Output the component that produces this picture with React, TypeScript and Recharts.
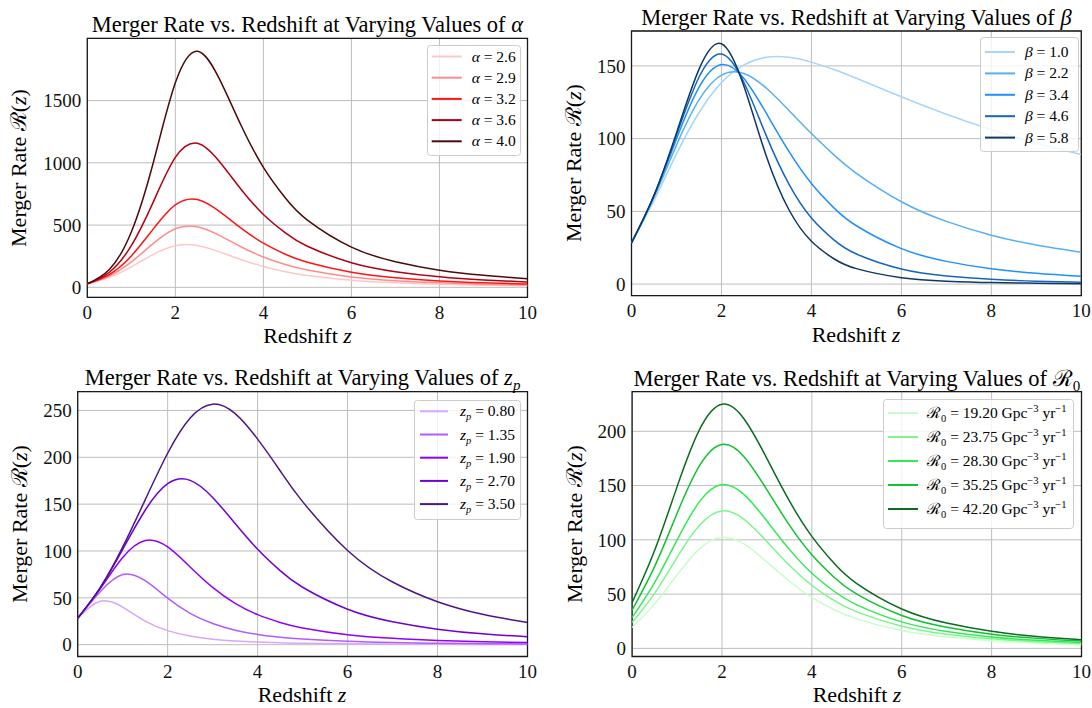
import React from 'react';
import { LineChart, Line, XAxis, YAxis, CartesianGrid, Legend, ReferenceArea } from 'recharts';

const FONT = '"Liberation Serif", "DejaVu Serif", serif';

// Redshift sample points shared by all curves
const zGrid = [0, 0.5, 1, 1.5, 2, 2.5, 3, 3.5, 4, 4.5, 5, 6, 7, 8, 9, 10];
const xTicks = [0, 2, 4, 6, 8, 10];

// Panel 1: varying alpha
const alphaLabels = ['2.6', '2.9', '3.2', '3.6', '4.0'];
const alphaRates = [
  [28.3, 80.7, 164.9, 264.9, 334.8, 336.1, 285.1, 221.7, 167.4, 126.0, 95.8, 57.8, 37.0, 24.8, 17.4, 12.6],
  [28.3, 91.2, 204.1, 352.8, 470.9, 486.6, 417.0, 324.1, 243.9, 183.2, 138.9, 83.6, 53.4, 35.9, 25.1, 18.2],
  [28.3, 103.1, 252.5, 469.4, 662.0, 705.2, 609.3, 473.3, 355.2, 266.0, 201.2, 121.0, 77.2, 51.8, 36.2, 26.2],
  [28.3, 121.4, 334.9, 686.6, 1043.1, 1156.4, 1010.0, 783.7, 585.4, 437.0, 329.9, 197.8, 126.1, 84.6, 59.1, 42.8],
  [28.3, 143.0, 444.1, 1002.5, 1642.2, 1896.4, 1673.7, 1295.5, 963.9, 717.0, 540.2, 323.3, 205.9, 138.1, 96.5, 69.8],
];
const alphaColors = ['#ffc8c8', '#ff8c8c', '#ff1414', '#b00012', '#4d0a0a'];
const alphaTicks = [0, 500, 1000, 1500];

// Panel 2: varying beta
const betaLabels = ['1.0', '2.2', '3.4', '4.6', '5.8'];
const betaRates = [
  [28.3, 57.5, 89.5, 117.8, 138.5, 150.7, 155.9, 155.9, 152.6, 147.5, 141.5, 128.8, 116.8, 106.2, 97.0, 89.1],
  [28.3, 59.5, 95.5, 126.6, 143.7, 144.8, 134.6, 119.4, 103.5, 88.8, 76.1, 56.6, 43.1, 33.6, 26.8, 21.8],
  [28.3, 60.5, 99.8, 135.2, 150.9, 141.4, 117.3, 91.2, 69.2, 52.4, 40.1, 24.4, 15.6, 10.5, 7.4, 5.3],
  [28.3, 60.9, 102.4, 142.2, 158.2, 138.6, 101.7, 68.7, 45.4, 30.4, 20.7, 10.4, 5.6, 3.3, 2.0, 1.3],
  [28.3, 61.0, 103.9, 147.6, 165.2, 136.0, 87.7, 51.1, 29.4, 17.4, 10.6, 4.4, 2.0, 1.0, 0.6, 0.3],
];
const betaColors = ['#a8d5fa', '#55b0f5', '#1e90ff', '#1565c0', '#0d3866'];
const betaTicks = [0, 50, 100, 150];

// Panel 3: varying z_p
const zpLabels = ['0.80', '1.35', '1.90', '2.70', '3.50'];
const zpRates = [
  [28.3, 46.3, 40.2, 25.2, 15.0, 9.2, 5.9, 4.0, 2.8, 2.0, 1.5, 0.9, 0.6, 0.4, 0.3, 0.2],
  [28.3, 56.6, 74.9, 68.3, 49.7, 33.5, 22.6, 15.5, 11.0, 8.0, 6.0, 3.6, 2.3, 1.5, 1.1, 0.8],
  [28.3, 59.6, 93.0, 111.2, 104.3, 82.9, 61.1, 44.1, 32.1, 23.7, 17.9, 10.7, 6.9, 4.6, 3.2, 2.3],
  [28.3, 60.7, 101.8, 143.5, 171.8, 175.4, 157.2, 129.3, 101.9, 79.0, 61.3, 37.9, 24.5, 16.6, 11.6, 8.4],
  [28.3, 61.0, 104.2, 154.6, 204.3, 241.9, 256.7, 246.6, 219.4, 185.6, 152.7, 100.6, 66.9, 45.9, 32.4, 23.6],
];
const zpColors = ['#d9a6ff', '#b25cff', '#8f00ff', '#6f00d6', '#4b1685'];
const zpTicks = [0, 50, 100, 150, 200, 250];

// Panel 4: varying R0
const r0Labels = ['19.20', '23.75', '28.30', '35.25', '42.20'];
const r0Rates = [
  [19.2, 41.0, 67.7, 91.7, 102.3, 96.0, 79.6, 61.8, 46.9, 35.6, 27.2, 16.5, 10.6, 7.1, 5.0, 3.6],
  [23.75, 50.7, 83.7, 113.4, 126.6, 118.7, 98.4, 76.5, 58.1, 44.0, 33.6, 20.4, 13.1, 8.8, 6.2, 4.5],
  [28.3, 60.5, 99.8, 135.2, 150.9, 141.4, 117.3, 91.2, 69.2, 52.4, 40.1, 24.4, 15.6, 10.5, 7.4, 5.3],
  [35.25, 75.3, 124.3, 168.3, 187.9, 176.2, 146.1, 113.5, 86.2, 65.3, 49.9, 30.3, 19.5, 13.1, 9.2, 6.7],
  [42.2, 90.1, 148.8, 201.5, 224.9, 210.9, 174.9, 135.9, 103.2, 78.1, 59.7, 36.3, 23.3, 15.7, 11.0, 8.0],
];
const r0Colors = ['#c6ffc9', '#7ff58f', '#33ea55', '#12c232', '#0b6b1f'];
const r0Ticks = [0, 50, 100, 150, 200];

function buildRows(values: number[][]) {
  return zGrid.map((z, i) => {
    const row: Record<string, number> = { z };
    values.forEach((s, j) => {
      row['s' + j] = s[i];
    });
    return row;
  });
}

const legendAlpha = (v: string) => (
  <>
    <tspan fontStyle="italic">α</tspan> = {v}
  </>
);
const legendBeta = (v: string) => (
  <>
    <tspan fontStyle="italic">β</tspan> = {v}
  </>
);
const legendZp = (v: string) => (
  <>
    <tspan fontStyle="italic">z</tspan>
    <tspan fontStyle="italic" dy={4} fontSize={10.5}>p</tspan>
    <tspan dy={-4}> = {v}</tspan>
  </>
);
const legendR0 = (v: string) => (
  <>
    ℛ
    <tspan dy={4} fontSize={10.5}>0</tspan>
    <tspan dy={-4}> = {v} Gpc</tspan>
    <tspan dy={-6} fontSize={10.5}>−3</tspan>
    <tspan dy={6}> yr</tspan>
    <tspan dy={-6} fontSize={10.5}>−1</tspan>
  </>
);

type LegendSpec = { left: number; top: number; w: number; h: number; first: number; step: number; lx0: number; lx1: number; tx: number };

type PanelSpec = {
  key: string;
  left: number;
  top: number;
  margin: { top: number; right: number; bottom: number; left: number };
  yAxisWidth: number;
  yDomain: [number, number];
  yTicks: number[];
  values: number[][];
  colors: string[];
  labels: string[];
  legend: LegendSpec;
  renderLabel: (v: string) => React.ReactNode;
  title: React.ReactNode;
  titlePos: [number, number];
  xLabelPos: [number, number];
  yLabelPos: [number, number];
};

const panels: PanelSpec[] = [
  {
    key: 'alpha',
    left: 0,
    top: 0,
    margin: { top: 38.3, right: 18.5, bottom: 26.7, left: 0 },
    yAxisWidth: 87.3,
    yDomain: [-80, 2000],
    yTicks: alphaTicks,
    values: alphaRates,
    colors: alphaColors,
    labels: alphaLabels,
    legend: { left: 427, top: 45, w: 93, h: 110, first: 11.5, step: 21.2, lx0: 4.7, lx1: 34.7, tx: 44.7 },
    renderLabel: legendAlpha,
    title: <tspan fontStyle="italic">α</tspan>,
    titlePos: [307.4, 32],
    xLabelPos: [307.5, 343],
    yLabelPos: [26, 168],
  },
  {
    key: 'beta',
    left: 546,
    top: 0,
    margin: { top: 31, right: 10.7, bottom: 28.3, left: 0 },
    yAxisWidth: 85.5,
    yDomain: [-8, 174],
    yTicks: betaTicks,
    values: betaRates,
    colors: betaColors,
    labels: betaLabels,
    legend: { left: 434, top: 37, w: 98, h: 114, first: 15, step: 21.4, lx0: 5, lx1: 35, tx: 45 },
    renderLabel: legendBeta,
    title: <tspan fontStyle="italic">β</tspan>,
    titlePos: [856.4, 24.5],
    xLabelPos: [856, 341.5],
    yLabelPos: [581, 163],
  },
  {
    key: 'zp',
    left: 0,
    top: 354,
    margin: { top: 37.7, right: 18.5, bottom: 21.5, left: 0 },
    yAxisWidth: 77.7,
    yDomain: [-12.6, 270],
    yTicks: zpTicks,
    values: zpRates,
    colors: zpColors,
    labels: zpLabels,
    legend: { left: 414, top: 46, w: 106, h: 119, first: 11.3, step: 23.2, lx0: 6, lx1: 34, tx: 46 },
    renderLabel: legendZp,
    title: (
      <>
        <tspan fontStyle="italic">z</tspan>
        <tspan fontStyle="italic" fontSize={15} dy={5}>p</tspan>
      </>
    ),
    titlePos: [302.6, 385],
    xLabelPos: [302, 702],
    yLabelPos: [27, 524],
  },
  {
    key: 'r0',
    left: 546,
    top: 354,
    margin: { top: 37.7, right: 10.5, bottom: 21.5, left: 0 },
    yAxisWidth: 86.1,
    yDomain: [-7.5, 236.5],
    yTicks: r0Ticks,
    values: r0Rates,
    colors: r0Colors,
    labels: r0Labels,
    legend: { left: 337, top: 45, w: 190, h: 129, first: 14, step: 24, lx0: 5, lx1: 35, tx: 44 },
    renderLabel: legendR0,
    title: (
      <>
        ℛ<tspan fontSize={15} dy={5}>0</tspan>
      </>
    ),
    titlePos: [856.8, 385.5],
    xLabelPos: [857, 702],
    yLabelPos: [582, 524],
  },
];

function LegendBox({ payload, spec, render }: { payload: any[]; spec: LegendSpec; render: (v: string) => React.ReactNode }) {
  const items = payload || [];
  return (
    <svg width={spec.w + 2} height={spec.h + 2} style={{ display: 'block', overflow: 'visible' }}>
      <rect x={0.5} y={0.5} width={spec.w} height={spec.h} rx={3} ry={3} fill="#ffffff" fillOpacity={0.8} stroke="#cccccc" strokeWidth={1} />
      {items.map((it: any, i: number) => {
        const y = spec.first + i * spec.step;
        return (
          <g key={i}>
            <line x1={spec.lx0} x2={spec.lx1} y1={y} y2={y} stroke={it.color} strokeWidth={2} />
            <text x={spec.tx} y={y + 5} fontFamily={FONT} fontSize={15.5} fill="#000">
              {render(String(it.value))}
            </text>
          </g>
        );
      })}
    </svg>
  );
}

const tickStyle = { fontFamily: FONT, fontSize: 19, fill: '#111' };

function Panel({ spec }: { spec: PanelSpec }) {
  const rows = buildRows(spec.values);
  const [y0, y1] = spec.yDomain;
  return (
    <div style={{ position: 'absolute', left: spec.left, top: spec.top }}>
      <LineChart width={546} height={354} data={rows} margin={spec.margin}>
        <CartesianGrid stroke="#bdbdbd" strokeWidth={1} />
        <XAxis
          dataKey="z"
          type="number"
          domain={[0, 10]}
          ticks={xTicks}
          interval={0}
          allowDataOverflow
          axisLine={false}
          tickLine={false}
          tickSize={6}
          tickMargin={2}
          height={30}
          tick={tickStyle}
        />
        <YAxis
          type="number"
          domain={spec.yDomain}
          ticks={spec.yTicks}
          interval={0}
          allowDataOverflow
          axisLine={false}
          tickLine={false}
          tickSize={4}
          tickMargin={2}
          width={spec.yAxisWidth}
          tick={tickStyle}
        />
        {spec.values.map((_, j) => (
          <Line
            key={j}
            type="natural"
            dataKey={'s' + j}
            name={spec.labels[j]}
            stroke={spec.colors[j]}
            strokeWidth={1.5}
            dot={false}
            activeDot={false}
            isAnimationActive={false}
          />
        ))}
        <ReferenceArea x1={0} x2={10} y1={y0} y2={y1} fill="none" fillOpacity={0} stroke="#1a1a1a" strokeWidth={1.3} ifOverflow="visible" />
        <Legend
          layout="horizontal"
          verticalAlign="middle"
          align="center"
          wrapperStyle={{ top: spec.legend.top, left: spec.legend.left, width: spec.legend.w + 2, height: spec.legend.h + 2, lineHeight: 0 }}
          content={(props: any) => <LegendBox payload={props.payload} spec={spec.legend} render={spec.renderLabel} />}
        />
      </LineChart>
    </div>
  );
}

export default function App() {
  return (
    <div style={{ position: 'relative', width: 1092, height: 708, background: '#fff', overflow: 'hidden' }}>
      <style>{'body{margin:0;background:#fff}'}</style>
      {panels.map((p) => (
        <Panel key={p.key} spec={p} />
      ))}
      <svg width={1092} height={708} style={{ position: 'absolute', left: 0, top: 0, pointerEvents: 'none' }}>
        {panels.map((p) => (
          <g key={p.key} fontFamily={FONT} fill="#000">
            <text x={p.titlePos[0]} y={p.titlePos[1]} textAnchor="middle" fontSize={22.5}>
              Merger Rate vs. Redshift at Varying Values of {p.title}
            </text>
            <text x={p.xLabelPos[0]} y={p.xLabelPos[1]} textAnchor="middle" fontSize={22}>
              Redshift <tspan fontStyle="italic">z</tspan>
            </text>
            <text
              transform={`translate(${p.yLabelPos[0]},${p.yLabelPos[1]}) rotate(-90)`}
              textAnchor="middle"
              fontSize={22}
            >
              Merger Rate ℛ(<tspan fontStyle="italic">z</tspan>)
            </text>
          </g>
        ))}
      </svg>
    </div>
  );
}
